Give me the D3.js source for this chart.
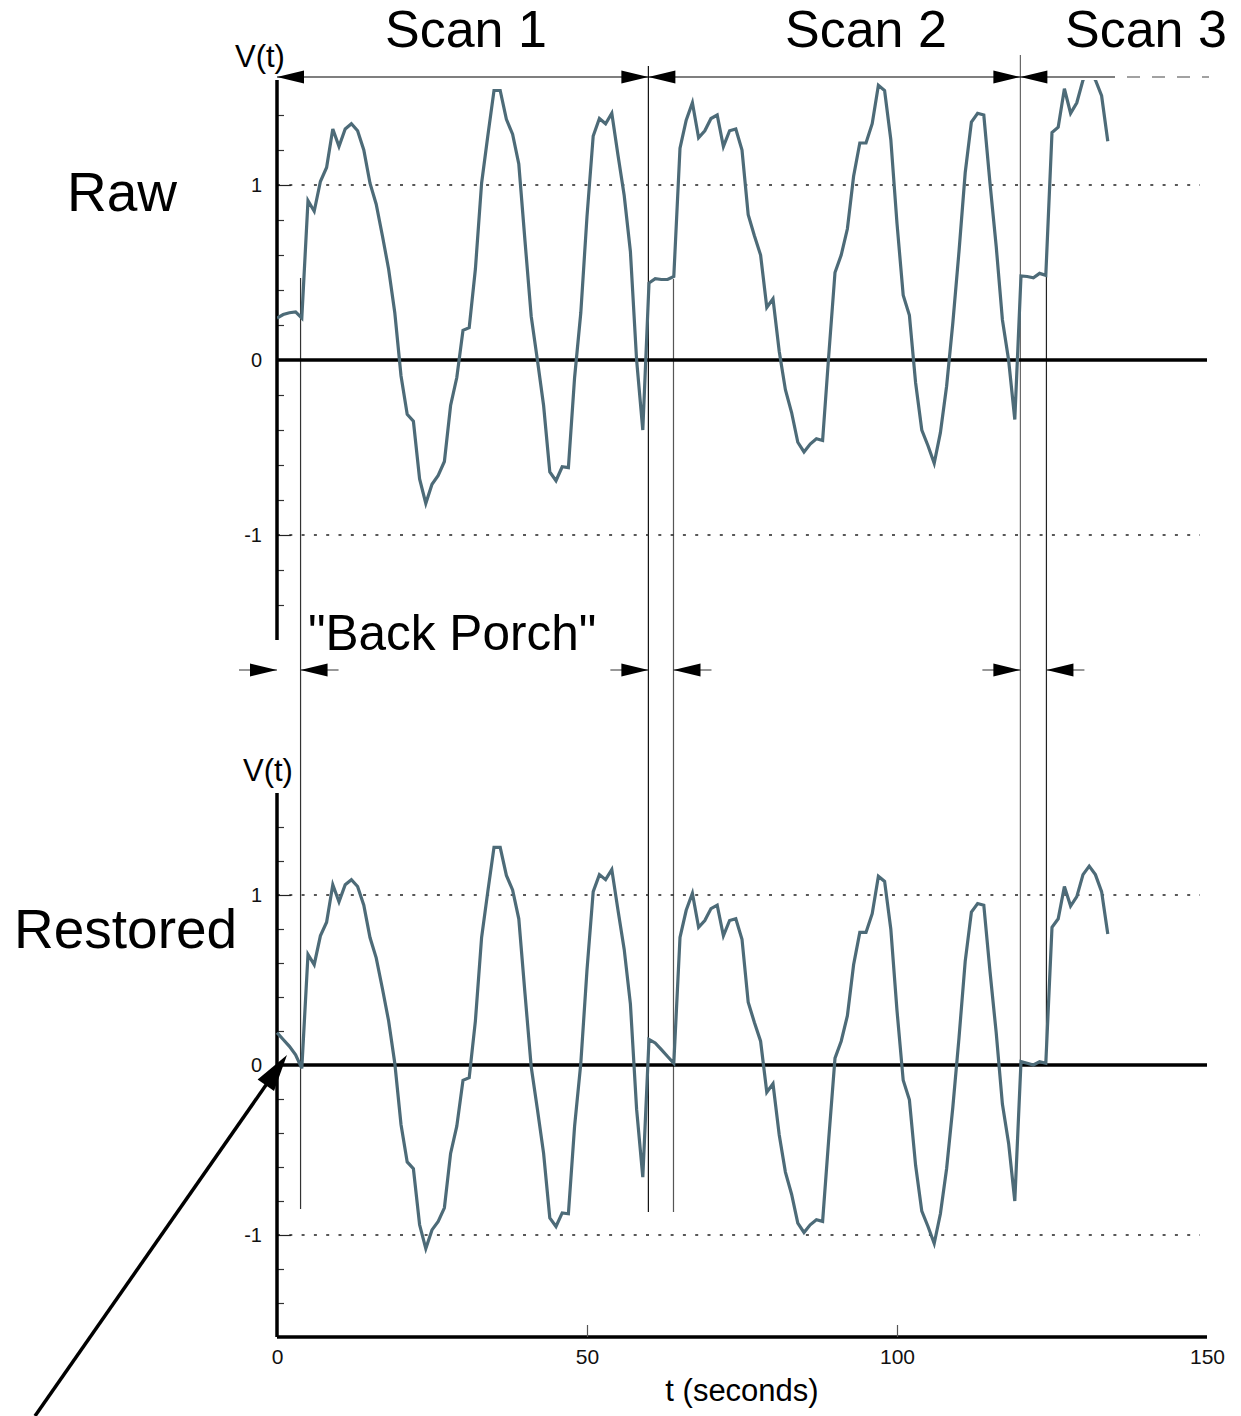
<!DOCTYPE html>
<html>
<head>
  <style>
    body {
      margin: 0;
      background: white;
    }
    text {
      font-family: "Liberation Sans", Arial, Helvetica, sans-serif;
    }
  </style>
</head>
<body>
  <div id="chart"></div>

  <script src="https://d3js.org/d3.v7.min.js"></script>
  <script>
  // raw video signal, one sample per second (t = 0 .. 134)
  var raw = [
    0.24, 0.26, 0.27, 0.275, 0.24, 0.91, 0.85, 1.02, 1.10, 1.32,
    1.22, 1.32, 1.35, 1.31, 1.20, 1.01, 0.89, 0.71, 0.52, 0.27,
    -0.09, -0.31, -0.35, -0.68, -0.82, -0.71, -0.66, -0.58, -0.26, -0.10,
    0.17, 0.185, 0.52, 1.01, 1.28, 1.54, 1.54, 1.375, 1.29, 1.12,
    0.68, 0.25, 0.00, -0.26, -0.64, -0.69, -0.61, -0.615, -0.10, 0.27,
    0.82, 1.28, 1.38, 1.35, 1.41, 1.17, 0.94, 0.62, 0.00, -0.40,
    0.44, 0.465, 0.46, 0.46, 0.477, 1.21, 1.37, 1.47, 1.27, 1.31,
    1.38, 1.40, 1.22, 1.31, 1.32, 1.20, 0.83, 0.71, 0.60, 0.30,
    0.35, 0.05, -0.17, -0.30, -0.47, -0.525, -0.48, -0.45, -0.46, 0.03,
    0.50, 0.60, 0.75, 1.05, 1.24, 1.24, 1.35, 1.57, 1.54, 1.26,
    0.78, 0.37, 0.255, -0.13, -0.40, -0.49, -0.59, -0.415, -0.15, 0.21,
    0.62, 1.07, 1.36, 1.41, 1.40, 1.01, 0.65, 0.23, 0.00, -0.34,
    0.48, 0.477, 0.47, 0.495, 0.484, 1.30, 1.33, 1.55, 1.41, 1.47,
    1.60, 1.65, 1.60, 1.51, 1.25
  ];

  // same signal after DC restoration
  var restored = [
    0.19, 0.15, 0.11, 0.06, -0.02, 0.65, 0.59, 0.76, 0.84, 1.06,
    0.96, 1.06, 1.09, 1.05, 0.94, 0.75, 0.63, 0.45, 0.26, 0.01,
    -0.35, -0.57, -0.61, -0.94, -1.08, -0.97, -0.92, -0.84, -0.52, -0.36,
    -0.09, -0.075, 0.26, 0.75, 1.02, 1.28, 1.28, 1.115, 1.03, 0.86,
    0.42, -0.01, -0.26, -0.52, -0.90, -0.95, -0.87, -0.875, -0.36, 0.01,
    0.56, 1.02, 1.12, 1.09, 1.15, 0.91, 0.68, 0.36, -0.26, -0.66,
    0.15, 0.13, 0.09, 0.05, 0.01, 0.75, 0.91, 1.01, 0.81, 0.85,
    0.92, 0.94, 0.76, 0.85, 0.86, 0.74, 0.37, 0.25, 0.14, -0.16,
    -0.11, -0.41, -0.63, -0.76, -0.93, -0.985, -0.94, -0.91, -0.92, -0.43,
    0.04, 0.14, 0.29, 0.59, 0.78, 0.78, 0.89, 1.11, 1.08, 0.80,
    0.32, -0.09, -0.205, -0.59, -0.86, -0.95, -1.05, -0.875, -0.61, -0.25,
    0.16, 0.61, 0.90, 0.95, 0.94, 0.55, 0.19, -0.23, -0.46, -0.80,
    0.02, 0.01, 0.00, 0.02, 0.01, 0.81, 0.86, 1.05, 0.935, 0.99,
    1.12, 1.17, 1.12, 1.02, 0.77
  ];

  // sample times (1 s spacing)
  var times = raw.map(function(d, i) { return i; });

  // scan boundaries and end of each back porch (seconds)
  var scanStarts = [0, 59.9, 119.9];
  var porchEnds = [3.8, 63.95, 124.1];
  var scanLabels = ["Scan 1", "Scan 2", "Scan 3"];

  var xTicks = [0, 50, 100, 150];
  var yLabels = [-1, 0, 1];
  var yMinor = [-1.4, -1.2, -0.8, -0.6, -0.4, -0.2, 0.2, 0.4, 0.6, 0.8, 1.2, 1.4];

  var width = 1241, height = 1416;
  var lineColor = "#4d6b78";

  var svg = d3.select("#chart").append("svg")
      .attr("width", width)
      .attr("height", height);

  var x = d3.scaleLinear().domain([0, 150]).range([277, 1207]);
  var yRaw = d3.scaleLinear().domain([-1.6, 1.6]).range([640, 80]);
  var yRes = d3.scaleLinear().domain([-1.6, 1.6]).range([1337, 793]);

  svg.append("defs").append("clipPath")
      .attr("id", "clipRaw")
    .append("rect")
      .attr("x", x(0))
      .attr("y", yRaw(1.6))
      .attr("width", x(150) - x(0))
      .attr("height", yRaw(-1.6) - yRaw(1.6));

  // back porch / scan boundary lines (drawn first, under everything)
  var vlines = [
    {t: porchEnds[0], y1: 278, y2: 1209, c: "#333"},
    {t: scanStarts[1], y1: 66, y2: 1212, c: "#111"},
    {t: porchEnds[1], y1: 279, y2: 1212, c: "#555"},
    {t: scanStarts[2], y1: 55, y2: 1066, c: "#666"},
    {t: porchEnds[2], y1: 276, y2: 1066, c: "#222"}
  ];
  svg.selectAll(".vline").data(vlines).enter().append("line")
      .attr("x1", function(d) { return x(d.t); })
      .attr("x2", function(d) { return x(d.t); })
      .attr("y1", function(d) { return d.y1; })
      .attr("y2", function(d) { return d.y2; })
      .attr("stroke", function(d) { return d.c; })
      .attr("stroke-width", 1.2);

  function drawPanel(y, values, clip) {
    var g = svg.append("g");

    // dotted reference lines at +-1
    g.selectAll(".grid").data([-1, 1]).enter().append("line")
        .attr("x1", x(0))
        .attr("x2", 1200)
        .attr("y1", function(d) { return y(d); })
        .attr("y2", function(d) { return y(d); })
        .attr("stroke", "#222")
        .attr("stroke-width", 1.5)
        .attr("stroke-dasharray", "3,9.3");

    // minor ticks
    var minor = g.append("g")
        .attr("transform", "translate(" + x(0) + ",0)")
        .call(d3.axisRight(y).tickValues(yMinor).tickSize(7).tickFormat(""));
    minor.select(".domain").remove();
    minor.selectAll("line").attr("stroke", "#333").attr("stroke-width", 1.2);

    // major ticks at +-1
    var major = g.append("g")
        .attr("transform", "translate(" + x(0) + ",0)")
        .call(d3.axisRight(y).tickValues([-1, 1]).tickSize(14).tickFormat(""));
    major.select(".domain").remove();
    major.selectAll("line").attr("stroke", "#222").attr("stroke-width", 1.2);

    // labels
    var lab = g.append("g")
        .attr("transform", "translate(" + (x(0) - 3) + ",0)")
        .call(d3.axisLeft(y).tickValues(yLabels).tickSize(0).tickPadding(12)
          .tickFormat(function(d) { return String(d); }));
    lab.select(".domain").remove();
    lab.selectAll("text")
        .style("font-family", "'Liberation Sans', Arial, sans-serif")
        .style("font-size", "20px")
        .attr("fill", "#111");

    // vertical axis
    g.append("line")
        .attr("x1", x(0)).attr("x2", x(0))
        .attr("y1", y(1.6)).attr("y2", y(-1.6))
        .attr("stroke", "black")
        .attr("stroke-width", 3.5);

    // zero line
    g.append("line")
        .attr("x1", x(0)).attr("x2", x(150))
        .attr("y1", y(0)).attr("y2", y(0))
        .attr("stroke", "black")
        .attr("stroke-width", 3.5);

    var path = g.append("path")
        .datum(times)
        .attr("fill", "none")
        .attr("stroke", lineColor)
        .attr("stroke-width", 3.2)
        .attr("stroke-linejoin", "miter")
        .attr("d", d3.line()
          .x(function(d) { return x(d); })
          .y(function(d) { return y(values[d]); }));
    if (clip) path.attr("clip-path", "url(#" + clip + ")");

    return g;
  }

  drawPanel(yRaw, raw, "clipRaw");
  var bottom = drawPanel(yRes, restored, null);

  // x axis of the lower panel
  bottom.append("line")
      .attr("x1", x(0)).attr("x2", x(150))
      .attr("y1", yRes(-1.6)).attr("y2", yRes(-1.6))
      .attr("stroke", "black")
      .attr("stroke-width", 3.5);

  var xt = bottom.append("g")
      .attr("transform", "translate(0," + yRes(-1.6) + ")")
      .call(d3.axisTop(x).tickValues([50, 100]).tickSize(12).tickFormat(""));
  xt.select(".domain").remove();
  xt.selectAll("line").attr("stroke", "#555").attr("stroke-width", 1.2);

  var xl = bottom.append("g")
      .attr("transform", "translate(0," + yRes(-1.6) + ")")
      .call(d3.axisBottom(x).tickValues(xTicks).tickSize(0).tickPadding(12)
        .tickFormat(function(d) { return String(d); }));
  xl.select(".domain").remove();
  xl.selectAll("text")
      .style("font-family", "'Liberation Sans', Arial, sans-serif")
      .style("font-size", "21px")
      .attr("fill", "#111");

  svg.append("text")
      .attr("x", x(75))
      .attr("y", 1401)
      .attr("text-anchor", "middle")
      .style("font-size", "31px")
      .text("t (seconds)");

  // arrowheads
  function arrowHead(tipX, tipY, dx, dy, len, half) {
    var bx = tipX - dx * len, by = tipY - dy * len;
    var px = -dy * half, py = dx * half;
    svg.append("path")
        .attr("d", "M" + tipX + "," + tipY +
                   "L" + (bx + px) + "," + (by + py) +
                   "L" + (bx - px) + "," + (by - py) + "Z")
        .attr("fill", "black");
  }

  // scan spans along the top
  var topY = 77;
  svg.append("line")
      .attr("x1", x(scanStarts[0])).attr("x2", x(scanStarts[2]))
      .attr("y1", topY).attr("y2", topY)
      .attr("stroke", "black").attr("stroke-width", 1.2);
  [0, 1].forEach(function(i) {
    arrowHead(x(scanStarts[i]), topY, -1, 0, 27, 6.5);
    arrowHead(x(scanStarts[i + 1]), topY, 1, 0, 27, 6.5);
  });
  arrowHead(x(scanStarts[2]), topY, -1, 0, 27, 6.5);
  svg.append("line")
      .attr("x1", x(scanStarts[2])).attr("x2", 1115)
      .attr("y1", topY).attr("y2", topY)
      .attr("stroke", "black").attr("stroke-width", 1.2);
  svg.append("line")
      .attr("x1", 1127).attr("x2", 1209)
      .attr("y1", topY).attr("y2", topY)
      .attr("stroke", "#444").attr("stroke-width", 1.2)
      .attr("stroke-dasharray", "13,12");

  var scanTextX = [385, 785, 1065];
  svg.selectAll(".scan").data(scanLabels).enter().append("text")
      .attr("x", function(d, i) { return scanTextX[i]; })
      .attr("y", 47)
      .style("font-size", "52px")
      .text(function(d) { return d; });

  // back porch markers
  var porchY = 670;
  scanStarts.forEach(function(s, i) {
    var a = x(s), b = x(porchEnds[i]);
    svg.append("line")
        .attr("x1", a - 38).attr("x2", a)
        .attr("y1", porchY).attr("y2", porchY)
        .attr("stroke", "#333").attr("stroke-width", 1.2);
    arrowHead(a, porchY, 1, 0, 27, 6.5);
    svg.append("line")
        .attr("x1", b).attr("x2", b + 38)
        .attr("y1", porchY).attr("y2", porchY)
        .attr("stroke", "#333").attr("stroke-width", 1.2);
    arrowHead(b, porchY, -1, 0, 27, 6.5);
  });

  svg.append("text")
      .attr("x", 308)
      .attr("y", 650)
      .style("font-size", "49.5px")
      .text("\"Back Porch\"");

  // axis titles and panel names
  svg.append("text").attr("x", 235).attr("y", 67).style("font-size", "31px").text("V(t)");
  svg.append("text").attr("x", 243).attr("y", 781).style("font-size", "31px").text("V(t)");
  svg.append("text").attr("x", 67).attr("y", 211).style("font-size", "55px").text("Raw");
  svg.append("text").attr("x", 14).attr("y", 948).style("font-size", "55px").text("Restored");

  // pointer to the restored zero level
  var tip = [287, 1055], tail = [35, 1416];
  var len = Math.hypot(tip[0] - tail[0], tip[1] - tail[1]);
  var ux = (tip[0] - tail[0]) / len, uy = (tip[1] - tail[1]) / len;
  svg.append("line")
      .attr("x1", tail[0]).attr("y1", tail[1])
      .attr("x2", tip[0] - ux * 30).attr("y2", tip[1] - uy * 30)
      .attr("stroke", "black")
      .attr("stroke-width", 3.5);
  arrowHead(tip[0], tip[1], ux, uy, 37, 10);
  </script>
</body>
</html>
